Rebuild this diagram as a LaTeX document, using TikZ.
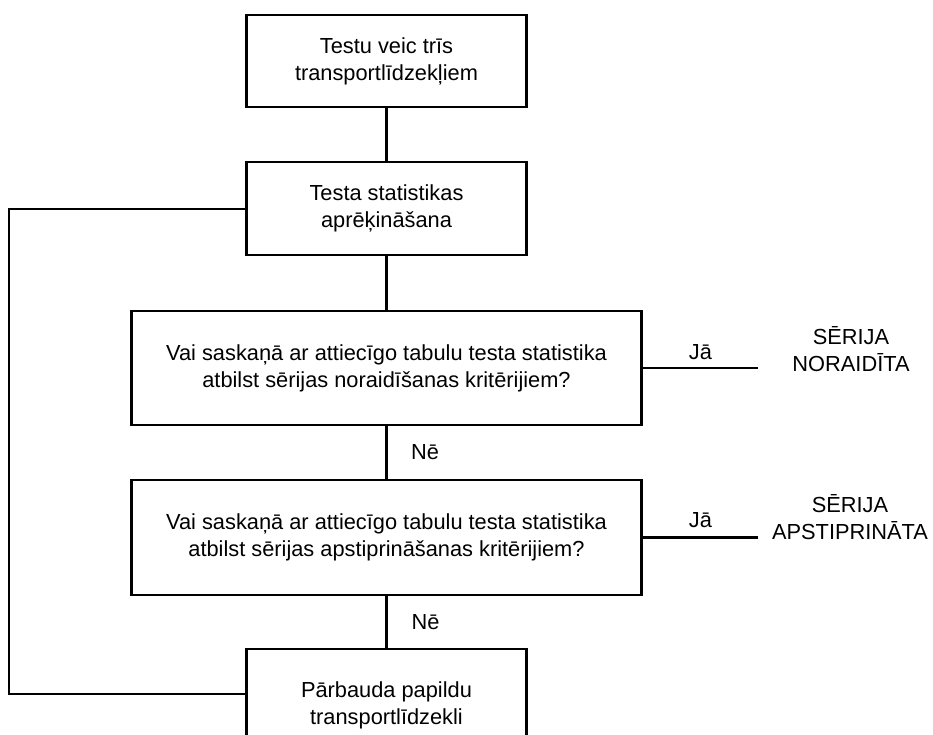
\documentclass[tikz,border=0pt]{standalone}
\usepackage{fontspec}
\setmainfont{Liberation Sans}
\begin{document}
\begin{tikzpicture}[x=1pt,y=-1pt,
  txt/.style={font=\fontsize{21.8}{27}\selectfont, align=center, inner sep=0pt},
  box/.style={txt, draw, line width=2.6pt},
  conn/.style={line width=2.6pt},
  lbl/.style={txt}]
\useasboundingbox (0,0) rectangle (933,735);
\node[box, minimum width=280pt, minimum height=92pt] (b1) at (386.5,61) {Testu veic trīs\\transportlīdzekļiem};
\node[box, minimum width=280pt, minimum height=93pt] (b2) at (386.5,208.5) {Testa statistikas\\aprēķināšana};
\node[box, minimum width=510pt, minimum height=114pt] (b3) at (386.5,368) {Vai saskaņā ar attiecīgo tabulu testa statistika\\atbilst sērijas noraidīšanas kritērijiem?};
\node[box, minimum width=510pt, minimum height=115pt] (b4) at (386.5,537.5) {Vai saskaņā ar attiecīgo tabulu testa statistika\\atbilst sērijas apstiprināšanas kritērijiem?};
\node[box, minimum width=280pt, minimum height=112pt] (b5) at (386.5,705) {Pārbauda papildu\\transportlīdzekli};
\node[lbl] (r1) at (851,349) {SĒRIJA\\NORAIDĪTA};
\node[lbl] (r2) at (850,517) {SĒRIJA\\APSTIPRINĀTA};
\coordinate (j1) at (758,368);
\coordinate (j2) at (758,537.5);
\coordinate (l1) at (9,209);
\coordinate (l2) at (9,694);
\draw[conn] (b1) -- (b2);
\draw[conn] (b2) -- (b3);
\draw[conn] (b3) -- node[lbl, midway, xshift=38.5pt] (n1) {Nē} (b4);
\draw[conn] (b4) -- node[lbl, midway, xshift=39pt] (n2) {Nē} (b5);
\draw[conn] (b3.east |- j1) -- node[lbl, midway, anchor=base, yshift=9pt] (y1) {Jā} (j1);
\draw[conn] (b4.east |- j2) -- node[lbl, midway, anchor=base, yshift=10pt] (y2) {Jā} (j2);
\draw[conn, line join=miter] (b2.west |- l1) -- (l1) -- (l2) -- (b5.west |- l2);
\end{tikzpicture}
\end{document}
